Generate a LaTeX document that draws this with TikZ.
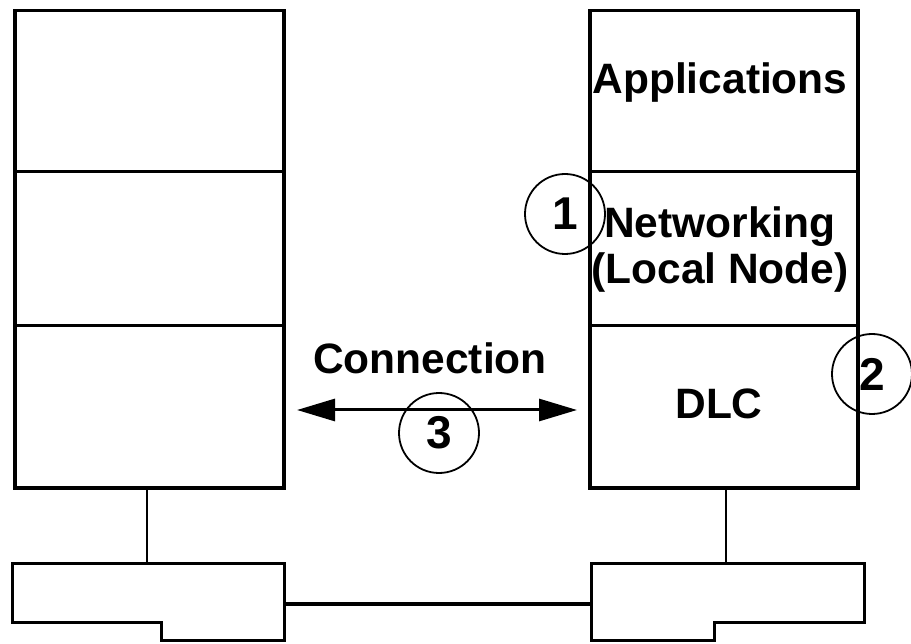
\documentclass[tikz,border=0pt]{standalone}
\usepackage{fontspec}
\setmainfont{Liberation Sans}
\usetikzlibrary{arrows.meta}
\tikzset{
  layer/.style={draw, line width=3.5pt, inner sep=0pt, anchor=north west},
  lbl/.style={font=\fontsize{42.5}{46}\selectfont\bfseries, inner sep=0pt, anchor=base},
  num/.style={draw, circle, line width=1.8pt, minimum size=80pt, inner sep=0pt, font=\fontsize{46}{50}\selectfont\bfseries},
  link/.style={line width=1.5pt},
  dev/.style={draw, line width=3pt, fill=white},
}
\begin{document}
\begin{tikzpicture}[x=1pt,y=-1pt]
\useasboundingbox (0,0) rectangle (911,644);
% left stack
\node[layer, minimum width=269pt, minimum height=161pt] (L1) at (13,9) {};
\node[layer, minimum width=269pt, minimum height=154pt] (L2) at (13,170) {};
\node[layer, minimum width=269pt, minimum height=162pt] (L3) at (13,324) {};
% right stack
\node[layer, minimum width=268pt, minimum height=161pt] (R1) at (588,9) {};
\node[layer, minimum width=268pt, minimum height=154pt] (R2) at (588,170) {};
\node[layer, minimum width=268pt, minimum height=162pt] (R3) at (588,324) {};
% labels
\node[lbl] (app) at (720,94) {Applications};
\node[lbl] (net) at (720,238) {Networking};
\node[lbl] (loc) at (720,284) {(Local Node)};
\node[lbl] (dlc) at (719,419) {DLC};
\node[lbl] (con) at (430,374) {Connection};
% arrow
\coordinate (aL) at (297,410);
\coordinate (aR) at (577,410);
\draw[line width=3pt, {Triangle[length=38pt,width=22pt]}-{Triangle[length=38pt,width=22pt]}] (aL) -- (aR);
% circles
\node[num] (c1) at (565,214) {1};
\node[num] (c2) at (872,374) {2};
\node[num] (c3) at (439,433) {3};
% bottom devices
\coordinate (dL) at (147,563);
\coordinate (dR) at (726,563);
\draw[link] (L3.south -| dL) -- (dL);
\draw[link] (R3.south -| dR) -- (dR);
\draw[dev] (12,563) -- (284,563) -- (284,640) -- (161,640) -- (161,622) -- (12,622) -- cycle;
\draw[dev] (591,563) -- (864,563) -- (864,622) -- (714,622) -- (714,640) -- (591,640) -- cycle;
\coordinate (bL) at (284,604);
\coordinate (bR) at (591,604);
\draw[line width=4pt] (bL) -- (bR);
\end{tikzpicture}
\end{document}
